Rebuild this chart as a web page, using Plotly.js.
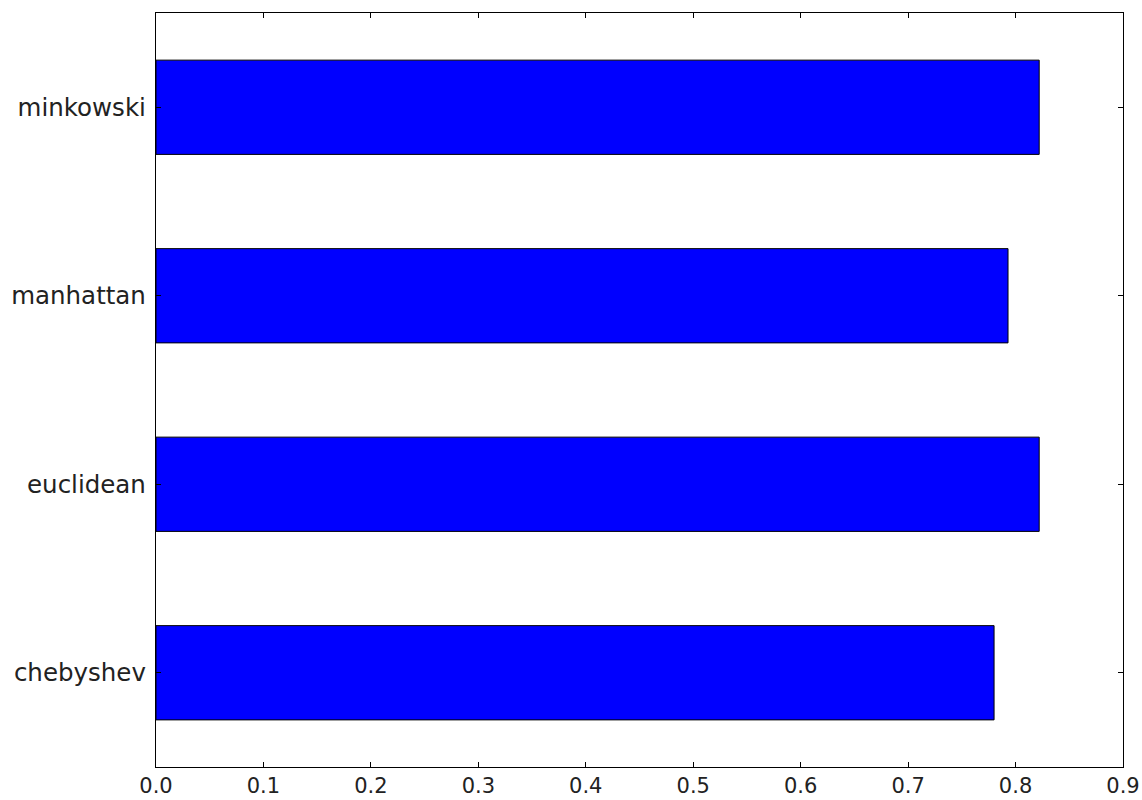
<!DOCTYPE html>
<html>
<head>
<meta charset="utf-8">
<script src="https://cdn.plot.ly/plotly-3.0.1.min.js"></script>
<style>html,body{margin:0;padding:0;background:#fff;}#chart{width:1142px;height:800px;}</style>
</head>
<body>
<div id="chart"></div>
<script>
const categories = ["chebyshev", "euclidean", "manhattan", "minkowski"];
const values = [0.780, 0.822, 0.793, 0.822];
const xTickVals = [0, 0.1, 0.2, 0.3, 0.4, 0.5, 0.6, 0.7, 0.8, 0.9];
const xTickText = ["0.0", "0.1", "0.2", "0.3", "0.4", "0.5", "0.6", "0.7", "0.8", "0.9"];

const trace = {
  type: "bar",
  orientation: "h",
  y: categories,
  x: values,
  width: 0.5,
  marker: {color: "#0000ff", line: {color: "#000000", width: 1}},
  hoverinfo: "none"
};

const layout = {
  width: 1142,
  height: 800,
  margin: {l: 156, r: 19, t: 13, b: 33, pad: 0},
  paper_bgcolor: "#ffffff",
  plot_bgcolor: "#ffffff",
  font: {family: "DejaVu Sans", size: 24, color: "#000000"},
  showlegend: false,
  xaxis: {
    range: [0, 0.9],
    tickvals: xTickVals,
    ticktext: xTickText,
    ticks: "inside",
    ticklen: 5,
    tickwidth: 1,
    tickcolor: "#000",
    showline: true,
    linecolor: "#000",
    linewidth: 1.2,
    mirror: "ticks",
    showgrid: false,
    zeroline: false,
    ticklabelstandoff: 0,
    ticklabeloverflow: "allow",
    tickfont: {family: "DejaVu Sans", size: 21, color: "#222"}
  },
  yaxis: {
    range: [-0.5, 3.5],
    type: "category",
    ticks: "inside",
    ticklen: 5,
    tickwidth: 1,
    tickcolor: "#000",
    showline: true,
    linecolor: "#000",
    linewidth: 1.2,
    mirror: "ticks",
    showgrid: false,
    zeroline: false,
    ticklabelstandoff: 4,
    ticklabeloverflow: "allow",
    tickfont: {family: "DejaVu Sans", size: 24.5, color: "#222"}
  }
};

Plotly.newPlot("chart", [trace], layout, {staticPlot: true});
</script>
</body>
</html>
